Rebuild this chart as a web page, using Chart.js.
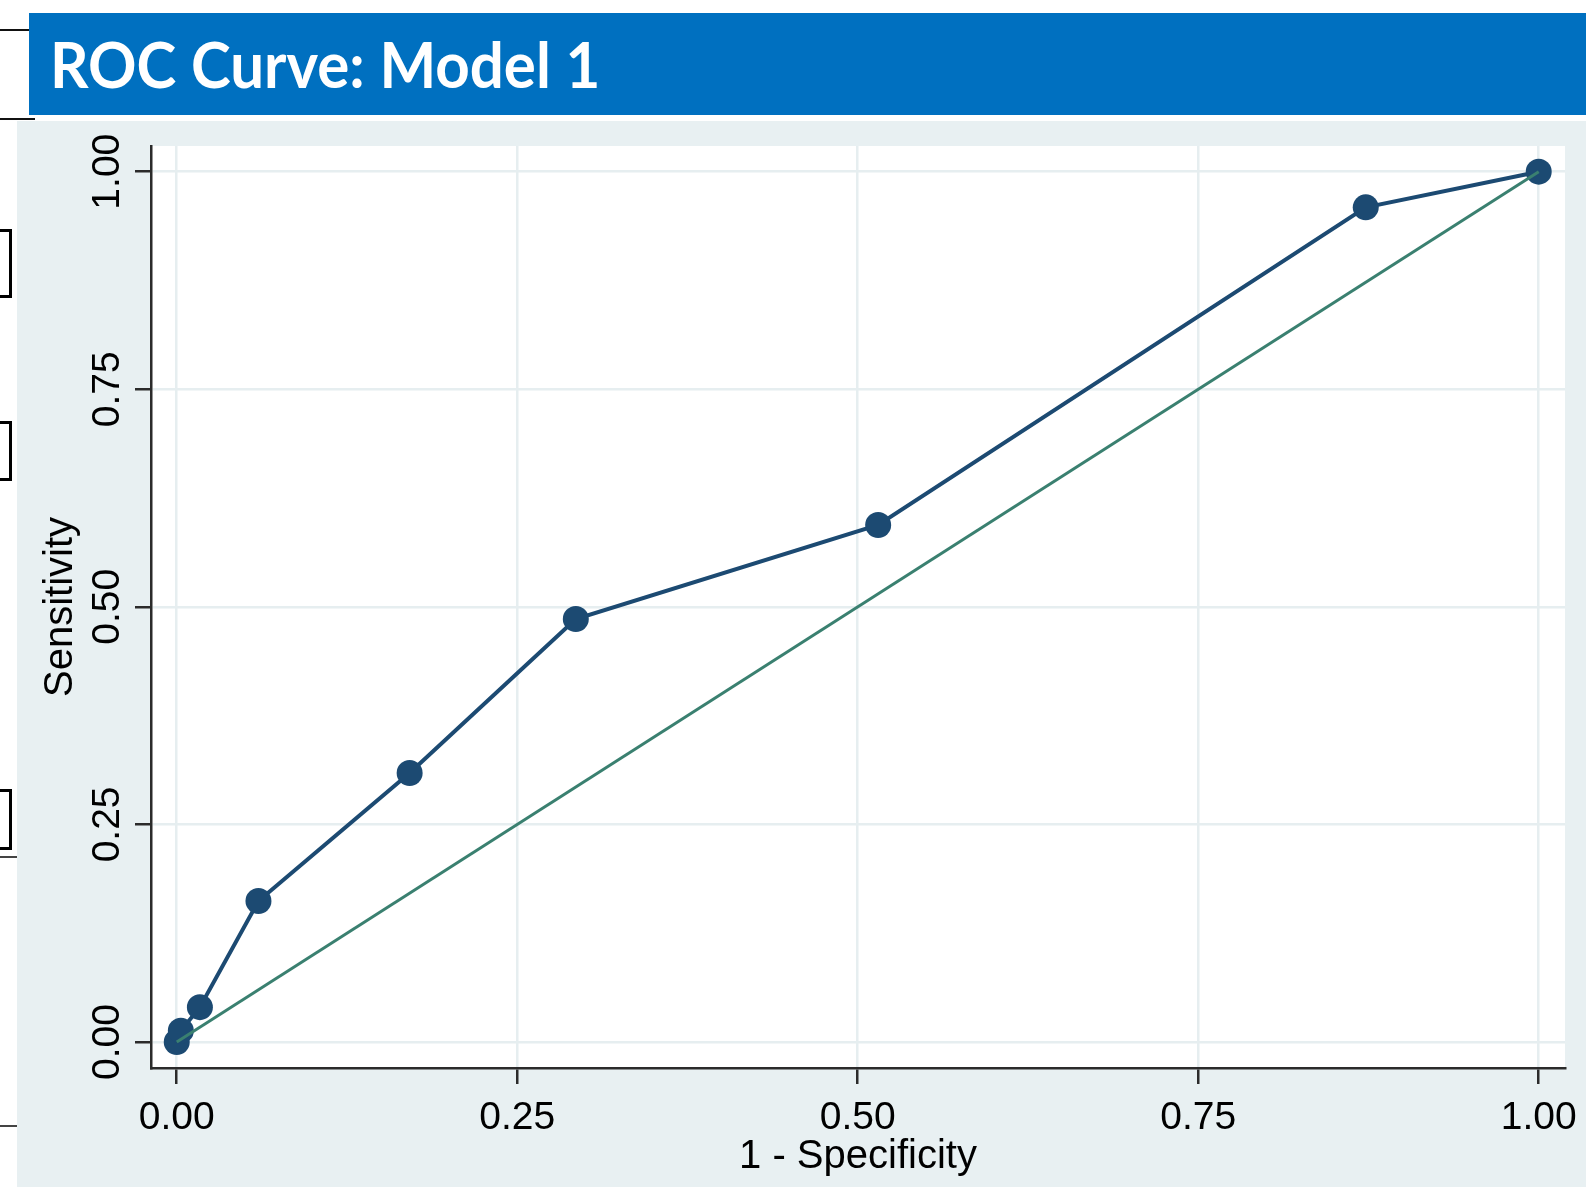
<!DOCTYPE html>
<html>
<head>
<meta charset="utf-8">
<script src="https://cdn.jsdelivr.net/npm/chart.js@4.4.1/dist/chart.umd.min.js"></script>
<style>
  body { margin: 0; background: #fff; width: 1586px; height: 1187px; overflow: hidden; position: relative; }
  .bar { position: absolute; left: 29px; top: 13px; width: 1557px; height: 102px; background: #0070c0; }
  #title { position: absolute; left: 21px; top: 19px; font-family: Lato, "Open Sans", sans-serif; font-weight: 700;
           font-size: 64px; line-height: 1; color: #fff; white-space: nowrap; transform-origin: left top; }
  .panel { position: absolute; left: 17px; top: 121px; width: 1569px; height: 1066px; background: #e8f0f2; }
  .brk { position: absolute; left: 0; width: 9px; border: 3px solid #000; border-left: none; }
  .hl { position: absolute; left: 0; height: 2px; background: #111; }
</style>
</head>
<body>
<div class="hl" style="top:29px;width:29px"></div>
<div class="hl" style="top:118px;width:35px"></div>
<div class="brk" style="top:229px;height:63px"></div>
<div class="brk" style="top:421px;height:54px"></div>
<div class="brk" style="top:789px;height:55px"></div>
<div class="hl" style="top:856px;width:17px;background:#444"></div>
<div class="hl" style="top:1125px;width:17px;background:#444"></div>

<div class="bar"><span id="title">ROC Curve: Model 1</span></div>
<div class="panel"><canvas id="roc"></canvas></div>

<script>
// ROC points
const specComp = [0, 0.003, 0.017, 0.060, 0.171, 0.293, 0.515, 0.873, 1];
const sensitivity = [0, 0.013, 0.040, 0.162, 0.309, 0.486, 0.594, 0.959, 1];
const refX = [0, 1];
const refY = [0, 1];
const tickVals = [0, 0.25, 0.5, 0.75, 1];

// squeeze the heading to the width of the original
const t = document.getElementById('title');
t.style.transform = 'scaleX(' + (550 / t.offsetWidth) + ')';

const FONT = '"Liberation Sans", Arial, sans-serif';
const axisDark = '#2b2b2b';
const gridLight = '#e6eef0';

// white plot region on the grey panel
const plotBg = {
  id: 'plotBg',
  beforeDraw(chart) {
    const a = chart.chartArea, ctx = chart.ctx;
    ctx.save();
    ctx.fillStyle = '#fff';
    ctx.fillRect(a.left, a.top, a.right - a.left, a.bottom - a.top);
    ctx.restore();
  }
};

// y tick labels in Stata are turned sideways, Chart.js won't rotate them on a vertical axis
const yLabels = {
  id: 'yLabels',
  afterDraw(chart) {
    const y = chart.scales.y, ctx = chart.ctx;
    ctx.save();
    ctx.font = '39px ' + FONT;
    ctx.fillStyle = '#000';
    ctx.textAlign = 'center';
    ctx.textBaseline = 'alphabetic';
    tickVals.forEach(v => {
      ctx.save();
      ctx.translate(102, y.getPixelForValue(v));
      ctx.rotate(-Math.PI / 2);
      ctx.fillText(v.toFixed(2), 0, 0);
      ctx.restore();
    });
    ctx.restore();
  }
};

new Chart(document.getElementById('roc'), {
  type: 'line',
  data: {
    datasets: [{
      label: 'Reference',
      data: refX.map((x, i) => ({ x, y: refY[i] })),
      borderColor: '#3a8070',
      borderWidth: 3,
      pointRadius: 0,
      order: 0
    }, {
      label: 'ROC',
      data: specComp.map((x, i) => ({ x, y: sensitivity[i] })),
      borderColor: '#1c4a72',
      backgroundColor: '#1c4a72',
      borderWidth: 4,
      pointRadius: 13,
      pointBorderWidth: 0,
      order: 1
    }]
  },
  options: {
    responsive: true,
    maintainAspectRatio: false,
    animation: false,
    layout: { padding: { top: 25, right: 21, left: 0, bottom: 0 } },
    plugins: { legend: { display: false }, tooltip: { enabled: false } },
    scales: {
      x: {
        type: 'linear',
        min: -0.0189,
        max: 1.0193,
        afterBuildTicks: s => { s.ticks = tickVals.map(v => ({ value: v })); },
        // fixed height; the last label may hang into the right margin
        afterFit: s => { s.height = 119; s.paddingLeft = 0; s.paddingRight = 0; },
        grid: { color: gridLight, lineWidth: 2.5, tickColor: axisDark, tickLength: 16, tickWidth: 2.5 },
        border: { display: true, color: axisDark, width: 2.5 },
        ticks: { color: '#000', font: { family: FONT, size: 39 }, padding: 11,
                 callback: v => v.toFixed(2) },
        title: { display: true, text: '1 - Specificity', color: '#000',
                 font: { family: FONT, size: 40 }, padding: { top: 0, bottom: 6 } }
      },
      y: {
        type: 'linear',
        min: -0.0299,
        max: 1.0295,
        afterBuildTicks: s => { s.ticks = tickVals.map(v => ({ value: v })); },
        afterFit: s => { s.width = 134; },
        grid: { color: gridLight, lineWidth: 2.5, tickColor: axisDark, tickLength: 16, tickWidth: 2.5 },
        border: { display: true, color: axisDark, width: 2.5 },
        ticks: { display: false },
        title: { display: true, text: 'Sensitivity', color: '#000',
                 font: { family: FONT, size: 40 }, padding: { top: 20, bottom: 0 } }
      }
    }
  },
  plugins: [plotBg, yLabels]
});
</script>
</body>
</html>
